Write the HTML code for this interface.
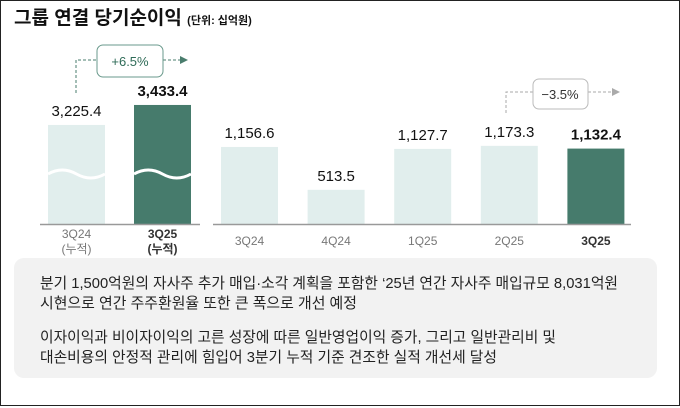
<!DOCTYPE html>
<html><head><meta charset="utf-8"><style>
html,body{margin:0;padding:0;background:#fff}
svg{display:block;font-family:"Liberation Sans","Noto Sans CJK KR",sans-serif}
</style></head><body>
<svg width="680" height="408" viewBox="0 0 680 408">
<rect x="0.5" y="0.5" width="679" height="405" fill="#fff" stroke="#222"/>
<text x="14" y="24" font-size="19" font-weight="bold" fill="#111">그룹 연결 당기순이익 <tspan font-size="11" font-weight="bold">(단위: 십억원)</tspan></text>
<g id="bars"></g>
<g>
<path d="M76 93 V60 H97 M163 60 H180" stroke="#4a7d6d" stroke-dasharray="3,2" fill="none"/>
<path d="M180 56 L188 60 L180 64 Z" fill="#4a7d6d"/>
<rect x="97" y="45" width="66" height="32" rx="6" fill="#fff" stroke="#6a9a8c"/>
<text x="130" y="66" font-size="13" text-anchor="middle" fill="#2e6b57">+6.5%</text>
</g>
<g>
<path d="M506 113 V92 H533 M588 92 H612" stroke="#aaa" stroke-dasharray="3,2" fill="none"/>
<path d="M612 88 L620 92 L612 96 Z" fill="#aaa"/>
<rect x="533" y="79" width="55" height="30" rx="6" fill="#fff" stroke="#bbb"/>
<text x="560" y="99" font-size="13" text-anchor="middle" fill="#333">−3.5%</text>
</g>
<rect x="14" y="258" width="643" height="120" rx="10" fill="#f2f2f2"/>
<g font-size="15" fill="#222">
<text x="40" y="288" textLength="578" lengthAdjust="spacingAndGlyphs">분기 1,500억원의 자사주 추가 매입·소각 계획을 포함한 ‘25년 연간 자사주 매입규모 8,031억원</text>
<text x="40" y="308" textLength="317" lengthAdjust="spacingAndGlyphs">시현으로 연간 주주환원율 또한 큰 폭으로 개선 예정</text>
<text x="40" y="342" textLength="516" lengthAdjust="spacingAndGlyphs">이자이익과 비이자이익의 고른 성장에 따른 일반영업이익 증가, 그리고 일반관리비 및</text>
<text x="40" y="362" textLength="457" lengthAdjust="spacingAndGlyphs">대손비용의 안정적 관리에 힘입어 3분기 누적 기준 견조한 실적 개선세 달성</text>
</g>
</svg>
<script>
const cumCats=["3Q24|(누적)","3Q25|(누적)"];
const cumVals=[3225.4,3433.4];
const qCats=["3Q24","4Q24","1Q25","2Q25","3Q25"];
const qVals=[1156.6,513.5,1127.7,1173.3,1132.4];
const NS="http://www.w3.org/2000/svg";
const g=document.getElementById("bars");
const base=224;
function yCum(v){return base-(v-2196)*0.0962;}
function yQ(v){return base-v*0.0666;}
function mk(t,a){const e=document.createElementNS(NS,t);for(const k in a)e.setAttribute(k,a[k]);g.appendChild(e);return e;}
function drawBar(x,w,y,v,label,hl,wave,i,grp){
  const r=mk("rect",{x:x,y:y,width:w,height:base-y,fill:hl?"#467b6c":"#e1eeed"});
  
  
  if(wave){
    const p=mk("path",{d:`M${x} ${base-50} q${w/4} -8 ${w/2} 0 t${w/2} 0`,stroke:"#fff",fill:"none","stroke-width":3});
    
    
  }
  const t=mk("text",{x:x+w/2,y:y-9,"font-size":15,"font-weight":hl?"bold":"normal","text-anchor":"middle",fill:"#111"});
  t.textContent=v.toLocaleString("en-US",{minimumFractionDigits:1,maximumFractionDigits:1});
  
  
  const parts=label.split("|");
  const y0=parts.length>1?238:245;
  parts.forEach((s,j)=>{
    const l=mk("text",{x:x+w/2,y:y0+j*15,"font-size":12,"font-weight":hl?"bold":"normal","text-anchor":"middle",fill:hl?"#333":"#777"});
    l.textContent=s;
    
    
  });
}
cumVals.forEach((v,i)=>drawBar(48+i*86,57,yCum(v),v,cumCats[i],i===1,true,i,'cum'));
qVals.forEach((v,i)=>drawBar(221+i*86.6,57,yQ(v),v,qCats[i],i===qVals.length-1,false,i,'q'));
const a1=mk("line",{x1:40,x2:200,y1:base+0.5,y2:base+0.5,stroke:"#999","stroke-width":1.5});


const a2=mk("line",{x1:213,x2:631,y1:base+0.5,y2:base+0.5,stroke:"#999","stroke-width":1.5});


</script>
</body></html>
